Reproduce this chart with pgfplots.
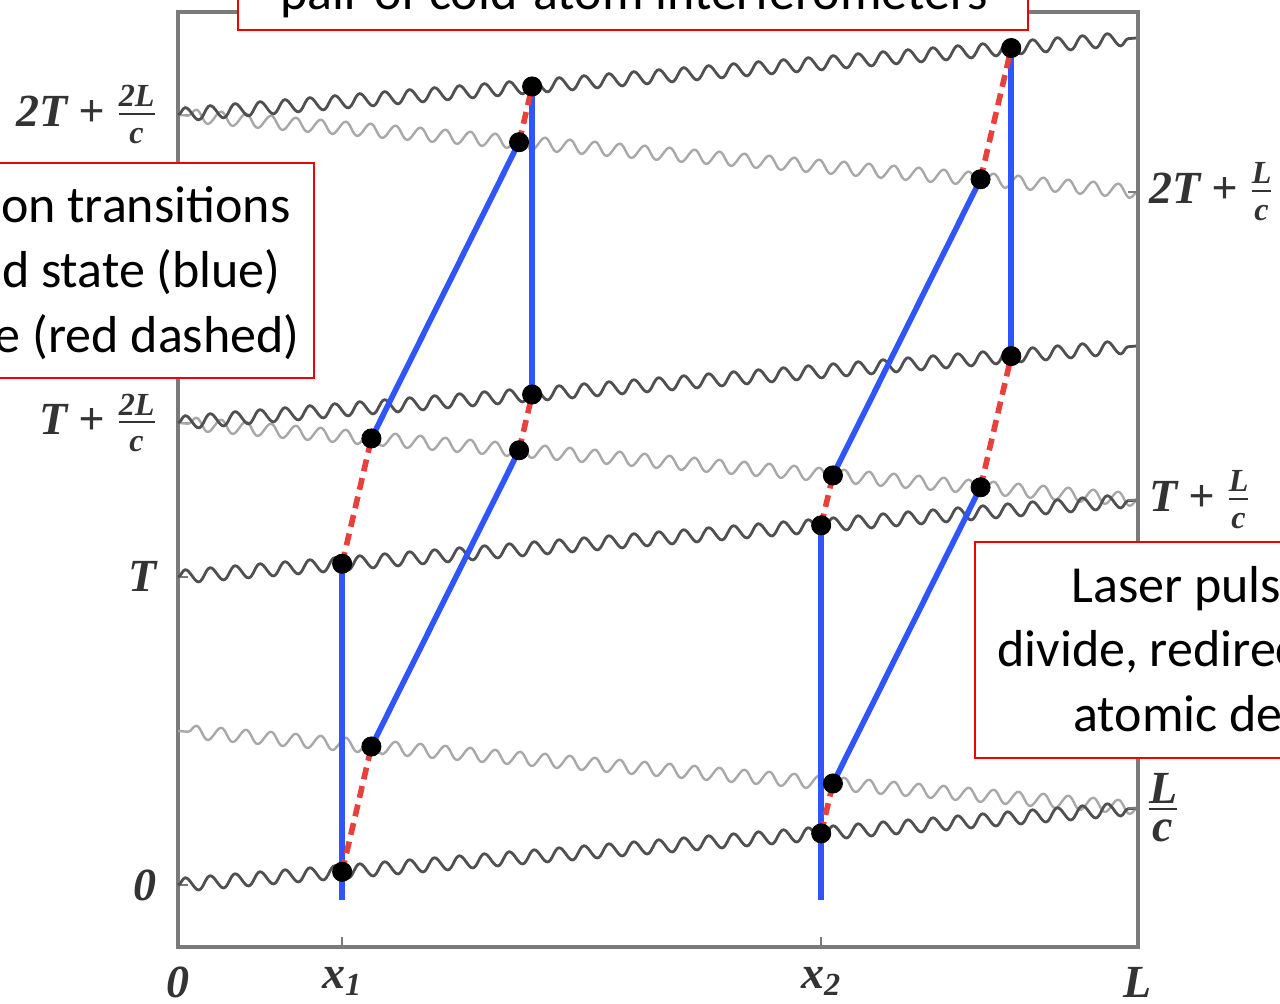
\documentclass[border=0pt]{standalone}
\usepackage{pgfplots}
\pgfplotsset{compat=1.18}
\usepackage{amsmath}
\usepackage{fontspec}
\setmainfont{Carlito}
\newfontfamily\tms{Liberation Serif}
\usetikzlibrary{decorations.pathmorphing}

\definecolor{wavedark}{HTML}{505050}
\definecolor{wavelight}{HTML}{A8A8A8}
\definecolor{ground}{HTML}{2F55FF}
\definecolor{excited}{HTML}{E8403A}
\definecolor{framegray}{HTML}{7A7A7A}
\definecolor{labelgray}{HTML}{333333}
\definecolor{boxred}{HTML}{F00000}

% compact stacked fraction for the L/c label
\newcommand\stackfrac[2]{$\vcenter{\halign{\hfil##\hfil\cr #1\cr
  \noalign{\kern2pt\hrule height 1.3pt\kern5pt}#2\cr}}$}

\pgfplotsset{
  diagram/.style={
    scale only axis, width=480pt, height=467.5pt,
    xmin=0, xmax=1, ymin=-0.2013, ymax=2.834,
    axis line style={framegray, line width=1.6pt},
    tick style={framegray, line width=1pt},
    major tick length=5pt, tick align=inside,
    tick label style={text=labelgray, font=\tms\bfseries\itshape\fontsize{23}{27}\selectfont},
  },
  laserfwd/.style={wavedark, line width=1.4pt, decorate,
    decoration={snake, amplitude=3.3pt, segment length=12.5pt}},
  laserback/.style={wavelight, line width=1.2pt, decorate,
    decoration={snake, amplitude=3.3pt, segment length=12.5pt}},
  groundpath/.style={ground, line width=2.8pt},
  excitedpath/.style={excited, line width=2.8pt, dash pattern=on 6pt off 3.5pt},
}

\begin{document}
\begin{tikzpicture}
\useasboundingbox (-89pt,-28.5pt) rectangle (551pt,473.5pt);
\clip (-89pt,-28.5pt) rectangle (551pt,473.5pt);

\begin{axis}[diagram,
  xtick={0,0.171,0.670,1},
  xticklabels={0,x\textsubscript{1},x\textsubscript{2},L},
  xtick pos=bottom, ytick pos=left,
  ytick={0,1,1.5,2.5},
  yticklabels={0, T, {T + $\frac{\text{2L}}{\text{c}}$}, {2T + $\frac{\text{2L}}{\text{c}}$}},
  xticklabel style={yshift=-6.5pt},
  yticklabel style={xshift=-7pt},
  clip=false,
]
% light pulses travelling from L back towards 0
\addplot[laserback] coordinates {(1,0.25) (0,0.5)};
\addplot[laserback] coordinates {(1,1.25) (0,1.5)};
\addplot[laserback] coordinates {(1,2.25) (0,2.5)};
% pulses travelling from 0 towards L
\addplot[laserfwd] coordinates {(0,0) (1,0.25)};
\addplot[laserfwd] coordinates {(0,1) (1,1.25)};
\addplot[laserfwd] coordinates {(0,1.5) (1,1.75)};
\addplot[laserfwd] coordinates {(0,2.5) (1,2.75)};

% interferometer at x1: ground state
\addplot[groundpath] coordinates {(0.171,-0.049) (0.171,1.0428)};
\addplot[groundpath] coordinates {(0.2015,0.4496) (0.3553,1.4112)};
\addplot[groundpath] coordinates {(0.2015,1.4496) (0.3553,2.4112)};
\addplot[groundpath] coordinates {(0.3689,1.5922) (0.3689,2.5922)};
% interferometer at x1: excited state
\addplot[excitedpath] coordinates {(0.171,0.0428) (0.2015,0.4496)};
\addplot[excitedpath] coordinates {(0.171,1.0428) (0.2015,1.4496)};
\addplot[excitedpath] coordinates {(0.3553,1.4112) (0.3689,1.5922)};
\addplot[excitedpath] coordinates {(0.3553,2.4112) (0.3689,2.5922)};

% interferometer at x2: ground state
\addplot[groundpath] coordinates {(0.670,-0.049) (0.670,1.1675)};
\addplot[groundpath] coordinates {(0.6822,0.3295) (0.836,1.291)};
\addplot[groundpath] coordinates {(0.6822,1.3295) (0.836,2.291)};
\addplot[groundpath] coordinates {(0.868,1.717) (0.868,2.717)};
% interferometer at x2: excited state
\addplot[excitedpath] coordinates {(0.670,0.1675) (0.6822,0.3295)};
\addplot[excitedpath] coordinates {(0.670,1.1675) (0.6822,1.3295)};
\addplot[excitedpath] coordinates {(0.836,1.291) (0.868,1.717)};
\addplot[excitedpath] coordinates {(0.836,2.291) (0.868,2.717)};

% pulse-atom interaction points
\addplot[only marks, mark=*, mark size=4.8pt, black] coordinates {
  (0.171,0.0428) (0.171,1.0428) (0.2015,0.4496) (0.2015,1.4496)
  (0.3553,1.4112) (0.3553,2.4112) (0.3689,1.5922) (0.3689,2.5922)
  (0.670,0.1675) (0.670,1.1675) (0.6822,0.3295) (0.6822,1.3295)
  (0.836,1.291) (0.836,2.291) (0.868,1.717) (0.868,2.717)
};
\end{axis}

% right-hand time labels
\begin{axis}[diagram,
  hide x axis, axis y line*=right,
  ytick={0.25,1.25,2.25},
  yticklabels={{\stackfrac{L}{c}}, {T + $\frac{\text{L}}{\text{c}}$}, {2T + $\frac{\text{L}}{\text{c}}$}},
  yticklabel style={xshift=2pt},
]
\end{axis}

% annotation boxes
\draw[boxred, line width=1pt, fill=white] (30pt,458.5pt) rectangle (425pt,490pt);
\node[anchor=base, inner sep=0pt, font=\fontsize{26}{32.5}\selectfont] at (228pt,468.5pt)
  {pair of cold-atom interferometers};

\draw[boxred, line width=1pt, fill=white] (-140pt,284.5pt) rectangle (68pt,392pt);
\node[anchor=base east, inner sep=0pt, font=\fontsize{26}{32.5}\selectfont] at (56.5pt,362pt)
  {Atoms undergo excitation transitions};
\node[anchor=base east, inner sep=0pt, font=\fontsize{26}{32.5}\selectfont] at (51.5pt,329.5pt)
  {between ground state (blue)};
\node[anchor=base east, inner sep=0pt, font=\fontsize{26}{32.5}\selectfont] at (61pt,297pt)
  {and excited state (red dashed)};

\draw[boxred, line width=1pt, fill=white] (398.5pt,94.5pt) rectangle (640pt,202.5pt);
\node[anchor=base west, inner sep=0pt, font=\fontsize{26}{32.5}\selectfont] at (446.5pt,172pt)
  {Laser pulses};
\node[anchor=base west, inner sep=0pt, font=\fontsize{26}{32.5}\selectfont] at (409.5pt,140pt)
  {divide, redirect and recombine};
\node[anchor=base west, inner sep=0pt, font=\fontsize{26}{32.5}\selectfont] at (447.5pt,107.5pt)
  {atomic de Broglie waves};
\end{tikzpicture}
\end{document}
